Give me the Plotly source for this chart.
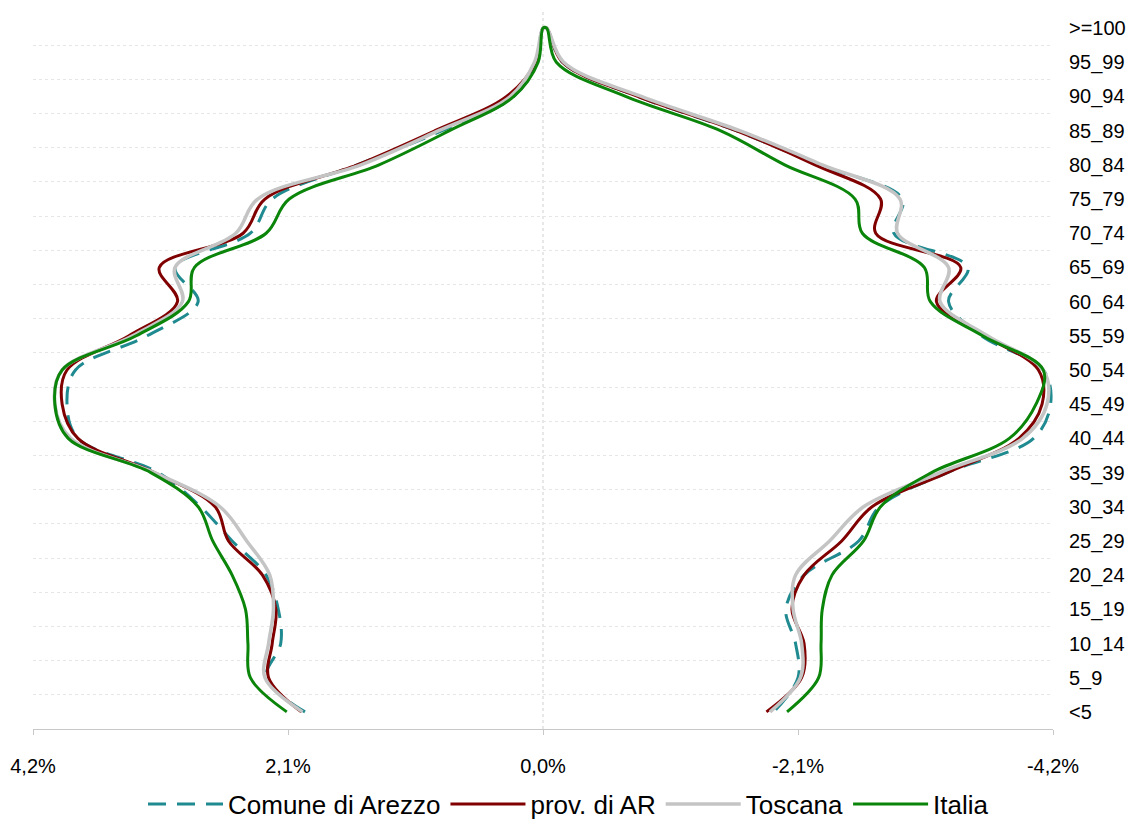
import plotly.graph_objects as go

categories = ["<5", "5_9", "10_14", "15_19", "20_24", "25_29", "30_34", "35_39",
              "40_44", "45_49", "50_54", "55_59", "60_64", "65_69", "70_74",
              "75_79", "80_84", "85_89", "90_94", "95_99", ">=100"]

# left side (positive %), from <5 up to >=100
arezzo_left = [1.96, 2.28, 2.16, 2.18, 2.28, 2.56, 2.82, 3.17, 3.83, 3.92, 3.85,
               3.26, 2.84, 3.03, 2.41, 2.23, 1.53, 0.83, 0.24, 0.06, 0.0]
prov_left = [1.99, 2.26, 2.23, 2.20, 2.31, 2.59, 2.70, 3.20, 3.83, 3.96, 3.92,
             3.41, 3.01, 3.16, 2.47, 2.29, 1.53, 0.89, 0.30, 0.06, 0.0]
toscana_left = [1.98, 2.29, 2.26, 2.22, 2.25, 2.44, 2.66, 3.20, 3.89, 4.02, 3.96,
                3.38, 2.97, 3.03, 2.53, 2.35, 1.50, 0.86, 0.27, 0.07, 0.0]
italia_left = [2.11, 2.41, 2.43, 2.45, 2.56, 2.72, 2.84, 3.23, 3.91, 4.02, 3.96,
               3.35, 2.92, 2.87, 2.28, 2.09, 1.35, 0.77, 0.24, 0.04, 0.0]

# right side (negative %), from <5 up to >=100
arezzo_right = [-1.90, -2.10, -2.08, -2.00, -2.15, -2.60, -2.77, -3.33, -4.04, -4.18, -4.12,
                -3.61, -3.34, -3.50, -2.89, -2.96, -2.27, -1.59, -0.78, -0.16, -0.03]
prov_right = [-1.84, -2.13, -2.15, -2.05, -2.15, -2.46, -2.71, -3.33, -3.92, -4.11, -4.08,
              -3.64, -3.24, -3.44, -2.74, -2.78, -2.24, -1.59, -0.78, -0.16, -0.03]
toscana_right = [-1.87, -2.12, -2.13, -2.06, -2.08, -2.36, -2.64, -3.27, -3.95, -4.15, -4.12,
                 -3.66, -3.27, -3.34, -2.92, -2.94, -2.30, -1.62, -0.81, -0.17, -0.03]
italia_right = [-2.01, -2.27, -2.29, -2.30, -2.38, -2.64, -2.78, -3.20, -3.84, -4.06, -4.12,
                -3.62, -3.19, -3.14, -2.63, -2.57, -1.99, -1.46, -0.68, -0.11, -0.03]

x_tickvals = [4.2, 2.1, 0.0, -2.1, -4.2]
x_ticktext = ["4,2%", "2,1%", "0,0%", "-2,1%", "-4,2%"]

series = [
    ("Comune di Arezzo", arezzo_left, arezzo_right, "#1F8A90", 3, "18px,11px"),
    ("prov. di AR", prov_left, prov_right, "#800000", 3, "solid"),
    ("Toscana", toscana_left, toscana_right, "#C4C4C4", 3.5, "solid"),
    ("Italia", italia_left, italia_right, "#0A850A", 3, "solid"),
]

fig = go.Figure()
for name, left, right, color, width, dash in series:
    xs = list(left) + list(reversed(right))
    ys = list(categories) + list(reversed(categories))
    fig.add_trace(go.Scatter(
        x=xs, y=ys, mode="lines", name=name,
        line=dict(color=color, width=width, dash=dash, shape="spline", smoothing=1.0),
        hoverinfo="skip",
    ))

fig.add_shape(type="line", xref="x", yref="paper", x0=0, x1=0, y0=0, y1=1,
              line=dict(color="#D0D0D0", width=1, dash="dot"), layer="below")

fig.update_layout(
    width=1126, height=815,
    margin=dict(l=25, r=81, t=3, b=94, autoexpand=False),
    paper_bgcolor="white", plot_bgcolor="white",
    font=dict(family="Liberation Sans, Arial, sans-serif", size=20, color="#000000"),
    showlegend=True,
    legend=dict(orientation="h", x=0.525, xanchor="center", y=-0.072, yanchor="top",
                font=dict(size=26), itemwidth=75, tracegroupgap=0,
                bgcolor="rgba(0,0,0,0)"),
    xaxis=dict(range=[4.2, -4.2], tickmode="array", tickvals=x_tickvals, ticktext=x_ticktext,
               showgrid=False, zeroline=False, showline=True, linecolor="#C8C8C8", linewidth=1,
               ticks="outside", ticklen=5, tickcolor="#C8C8C8", ticklabelstandoff=14,
               tickfont=dict(size=20), automargin=False),
    yaxis=dict(type="category", categoryorder="array", categoryarray=categories,
               range=[-0.5, 20.5], side="right", showgrid=True, gridcolor="#E6E6E6",
               griddash="dot", gridwidth=1, tickson="boundaries", ticks="",
               showline=False, zeroline=False, ticklabelstandoff=15,
               tickfont=dict(size=20), automargin=False),
)

fig.write_html("out.html")
